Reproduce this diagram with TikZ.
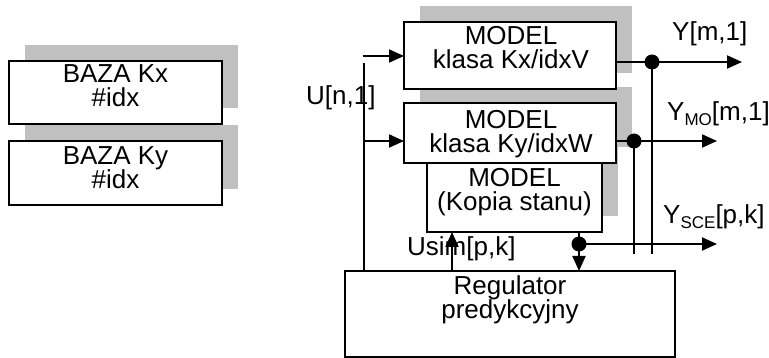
\documentclass[tikz,border=0pt]{standalone}
\usepackage{fontspec}
\setmainfont{Liberation Sans}
\usetikzlibrary{arrows.meta,backgrounds}
\definecolor{shadegrey}{RGB}{192,192,192}
\newcommand\sublbl[1]{\raisebox{-5pt}{\fontsize{17}{17}\selectfont #1}}
\lineskiplimit=-20pt

\begin{document}
\begin{tikzpicture}[x=1pt,y=-1pt,
  blockbox/.style={draw, line width=2pt, fill=white, inner sep=0pt, outer sep=0pt, anchor=north west},
  wire/.style={line width=2pt},
  arrowwire/.style={line width=2pt, -{Triangle[length=15pt,width=13pt]}},
  junction/.style={circle, fill, inner sep=0pt, minimum size=15pt},
  lbl/.style={inner sep=0pt, font=\fontsize{26}{24}\selectfont},
  blocktext/.style={lbl, align=center, anchor=north},
]
\useasboundingbox (0,0) rectangle (769,358);

% databases
\node[blockbox, minimum width=213pt, minimum height=63pt] (bazakx) at (9,61) {};
\node[blockbox, minimum width=213pt, minimum height=64pt] (bazaky) at (9,141) {};
\node[blocktext] (bazakxtext) at (115.5,64.4) {BAZA Kx\\\#idx};
\node[blocktext] (bazakytext) at (115.5,146.4) {BAZA Ky\\\#idx};

% models and controller
\node[blockbox, minimum width=212pt, minimum height=67pt] (kx) at (404,22) {};
\node[blockbox, minimum width=212pt, minimum height=60pt] (ky) at (404,103) {};
\node[blockbox, minimum width=175pt, minimum height=69pt] (kop) at (427,163) {};
\node[blockbox, minimum width=330pt, minimum height=86pt] (reg) at (345,271) {};
\node[blocktext] (kxtext) at (511,26.4) {MODEL\\klasa Kx/idxV};
\node[blocktext] (kytext) at (511,110) {MODEL\\klasa Ky/idxW};
\node[blocktext] (koptext) at (514.5,168.4) {MODEL\\(Kopia stanu)};
\node[blocktext] (regtext) at (510,275.4) {Regulator\\predykcyjny};

% drop shadows behind the blocks
\begin{scope}[on background layer]
  \foreach \b in {bazakx,bazaky,kx,ky,kop}
    \fill[shadegrey] ([xshift=16pt,yshift=16pt]\b.south west) rectangle ([xshift=16pt,yshift=16pt]\b.north east);
\end{scope}

% input U
\coordinate (utop) at (363.5,63);
\coordinate (kxin) at (363,56);
\coordinate (kyin) at (363,141);
\draw[wire] (utop) -- (utop |- reg.north);
\draw[arrowwire] (kxin) -- (kxin -| kx.west);
\draw[arrowwire] (kyin) -- (kyin -| ky.west);

% output Y
\node[junction] (ydot) at (652,62) {};
\coordinate (yout) at (742,62);
\coordinate (yend) at (652,254);
\draw[arrowwire] (kx.east |- ydot) -- (yout);
\draw[wire] (ydot.center) -- (yend);

% output Y_MO
\node[junction] (modot) at (634,141) {};
\coordinate (moout) at (717,141);
\coordinate (moend) at (634,254);
\draw[arrowwire] (ky.east |- modot) -- (moout);
\draw[wire] (modot.center) -- (moend);

% output Y_SCE
\node[junction] (scedot) at (579,244) {};
\coordinate (sceout) at (717,244);
\draw[arrowwire] (scedot.center) -- (sceout);
\draw[arrowwire] (kop.south -| scedot) -- (reg.north -| scedot);

% simulated control Usim
\coordinate (usimx) at (452,250);
\draw[arrowwire] (reg.north -| usimx) -- (kop.south -| usimx);

% signal labels
\node[lbl, anchor=base west] (ulabel) at (306,105) {U[n,1]};
\node[lbl, anchor=base west] (ylabel) at (672,41) {Y[m,1]};
\node[lbl, anchor=base west] (ymolabel) at (667,121) {Y\sublbl{MO}[m,1]};
\node[lbl, anchor=base west] (yscelabel) at (663,223.5) {Y\sublbl{SCE}[p,k]};
\node[lbl, anchor=base west] (usimlabel) at (407,256) {Usim[p,k]};
\end{tikzpicture}
\end{document}
